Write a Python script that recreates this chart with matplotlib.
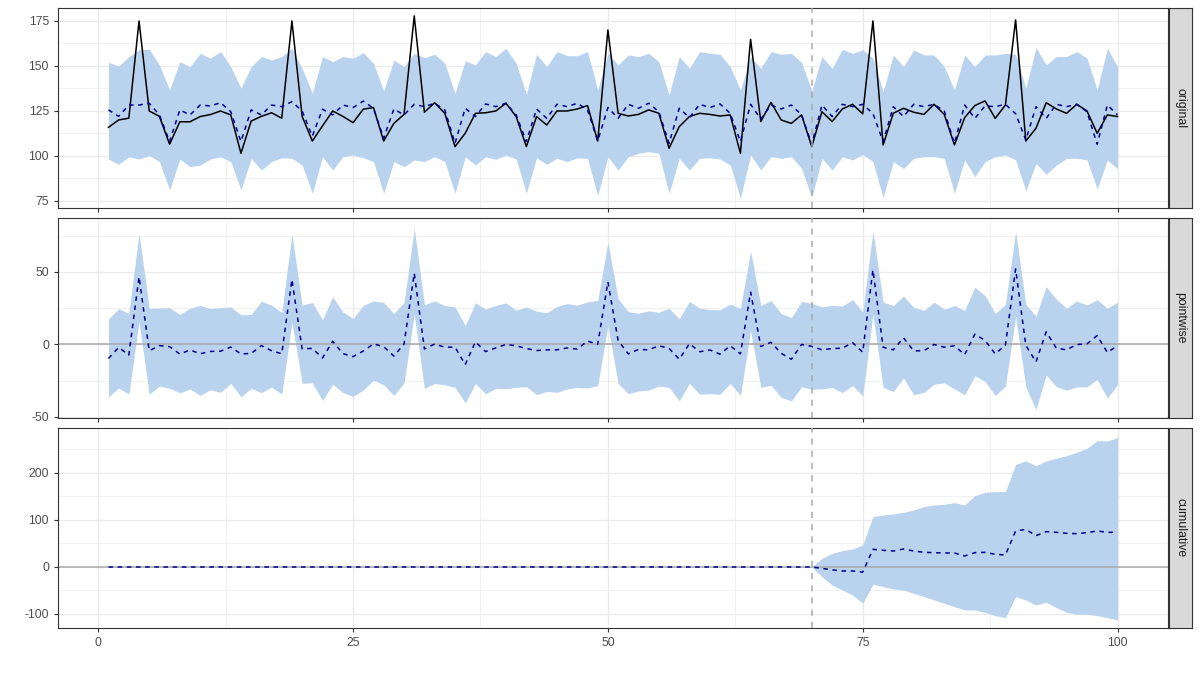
import matplotlib.pyplot as plt
import numpy as np

# values (t = 1..100, intervention after t = 70)
t = np.arange(1, 101)
intervention = 70

observed = [115.9, 120, 121, 175, 125, 122, 106.5, 119, 119, 121.9,
            123, 125, 122.8, 101.5, 119.4, 122, 124, 121, 175, 122,
            108.3, 116.7, 125, 122, 118.5, 126, 126.9, 108.3, 118.1, 123.1,
            177.8, 124.3, 129.6, 123.7, 105.2, 112.6, 123.7, 124, 125, 129.3,
            121.9, 105.2, 121.9, 117.2, 125, 125, 126.1, 128, 108.3, 170,
            123.7, 122.2, 123.1, 125.6, 123.7, 104.3, 116.3, 121.9, 123.7, 123.1,
            122.2, 122.8, 101.5, 164.8, 119.1, 129.8, 120, 118.1, 122.8, 105.2,
            124.6, 119.1, 126.1, 128.7, 123.4, 175, 106.1, 123.7, 126.5, 124.3,
            123.1, 128.7, 123.1, 106.1, 121.3, 128, 130.6, 120.9, 128.3, 175.6,
            108.3, 115.4, 129.6, 126.1, 123.7, 128.7, 125, 112.6, 122.8, 121.9]

predicted = [125.6, 122, 128.3, 128.3, 129.3, 122.8, 108, 125.6, 122.8, 128.3,
             127.8, 129.6, 124.6, 108, 125.6, 122.8, 128.3, 127.4, 130.2, 125,
             111, 126, 122.8, 128.3, 126.9, 130.5, 126.5, 109.8, 126.1, 122.8,
             128.7, 127.4, 129.3, 125.6, 107, 126.5, 121.9, 128.9, 127.4, 129.3,
             122.8, 108, 126.1, 120.9, 128.7, 127.4, 129.3, 125.6, 108.3, 126.9,
             120.9, 128.7, 126.5, 129.3, 124.6, 107, 126.5, 121.3, 128.7, 126.9,
             128.9, 123.7, 108, 128.7, 120.5, 128.3, 126.1, 128.3, 122.8, 106.5,
             128.3, 121.9, 128.7, 127.4, 128.7, 123.6, 108, 127.4, 121.9, 128.7,
             127.4, 128.7, 125, 107, 128.3, 120.9, 127.8, 127.4, 128.7, 123.5,
             108.9, 127.4, 120.9, 128.7, 127.4, 128.7, 124.6, 106.5, 128.3, 122.8]

pred_upper = [152, 150, 155.2, 159, 159.3, 150.6, 136.7, 152.4, 149.6, 157,
              154.3, 158, 149.6, 137.6, 149.6, 155.2, 153.3, 155.2, 159.8, 148.7,
              134.8, 155.2, 152.4, 155.2, 154.3, 157.4, 151.5, 136.1, 153.3, 149.6,
              157, 154.6, 156.5, 151.5, 134.8, 152.8, 150.6, 158, 155.2, 159.8,
              151.5, 134.3, 156.5, 149.6, 158, 155.7, 155.7, 158, 136.7, 157,
              150.6, 156.1, 155.2, 157, 152.4, 133.9, 155.2, 148.7, 158, 157,
              156.5, 149.6, 136.7, 155.2, 148.7, 158, 156.5, 157, 152, 136.1,
              155.2, 148.7, 159.3, 157, 159, 154.3, 135.7, 156.1, 149.6, 158.9,
              156.1, 156.1, 149.6, 136.7, 156.1, 149.6, 156.1, 156.1, 157, 156.5,
              137.6, 160.2, 150.6, 155.2, 155.2, 158, 154.3, 136.7, 159.8, 149.6]

pred_lower = [98.3, 95.4, 99.6, 98.3, 100.2, 96.9, 81.1, 98.3, 94.1, 95,
              98.3, 99.6, 96.9, 81.1, 98.7, 92.2, 96.9, 99, 98.7, 95,
              79.3, 99.6, 92.2, 99.6, 100.6, 99, 96.9, 79.3, 96.9, 94.1,
              97.8, 96.9, 99.6, 96.9, 79.3, 99.6, 95, 99.6, 98.1, 100.6,
              98.3, 79.3, 99, 95.4, 98.7, 96.9, 99, 98.7, 78, 99.6,
              92.2, 99.6, 101.5, 102.4, 101.5, 79.3, 98.7, 92.2, 98.7, 99,
              98.3, 95, 76.5, 100.6, 92.2, 99.6, 98.7, 99.6, 93.1, 76.9,
              98.7, 92.2, 99.6, 97.8, 100.9, 96.9, 76.9, 96.9, 93.1, 98.7,
              99.6, 99.6, 98.7, 79.3, 97.8, 88.5, 96.9, 99.6, 100.6, 97.8,
              80.6, 95.9, 89.8, 95, 98.7, 98.7, 97.8, 81.7, 97.8, 92.8]

# cumulative effect, post period (t = 70..100)
cum_effect_post = [0, -3, -6, -8.5, -8.5, -11, 37.6, 35.5, 34, 38.3,
                   34, 31.2, 30.5, 29.8, 29.8, 23.4, 30.5, 31.2, 27, 25.5,
                   76.6, 80, 66.7, 75.2, 73.8, 71.6, 70.9, 73, 76.6, 73.8, 73.8]
cum_upper_post = [0, 18.4, 29, 34.8, 38.3, 46.8, 107, 110.6, 112.8, 116.3,
                  121.3, 128.4, 131.9, 133.3, 136.9, 131.9, 151.8, 158.9, 160.3, 160.3,
                  218.4, 225.5, 215.6, 225.5, 231.2, 236.9, 244, 252.5, 268.8, 268, 275.2]
cum_lower_post = [0, -20.6, -38.3, -49, -59.6, -77.3, -36.9, -41.8, -46.8, -49,
                  -56, -63.1, -70.2, -77.3, -84.4, -91.5, -91.5, -96.5, -103.5, -107.8,
                  -63.1, -70.2, -80.9, -75.2, -86.5, -96.5, -100.7, -100.7, -103.5, -107.8, -112.8]

observed = np.array(observed)
predicted = np.array(predicted)
pred_upper = np.array(pred_upper)
pred_lower = np.array(pred_lower)

# pointwise effect = observed - predicted
point = observed - predicted
point_upper = observed - pred_lower
point_lower = observed - pred_upper

pre = np.zeros(intervention - 1)
cum = np.concatenate([pre, cum_effect_post])
cum_up = np.concatenate([pre, cum_upper_post])
cum_lo = np.concatenate([pre, cum_lower_post])

plt.rcParams['font.family'] = ['Liberation Sans', 'DejaVu Sans']
plt.rcParams['axes.unicode_minus'] = False

band_col = '#B9D3EE'
dash_col = '#00008B'
grid_col = '#EBEBEB'
ref_col = '#A9A9A9'

fig = plt.figure(figsize=(12, 6.75), dpi=100)

W, H = 1200, 675
ax_left, ax_right = 58, 1168
panels = [(8, 208), (218, 418), (428, 628)]
names = ['original', 'pointwise', 'cumulative']
yticks = [[75, 100, 125, 150, 175], [-50, 0, 50], [-100, 0, 100, 200]]

axes = []
for (top, bot), name in zip(panels, names):
    ax = fig.add_axes([ax_left / W, 1 - bot / H, (ax_right - ax_left) / W, (bot - top) / H])
    axes.append(ax)
    st = fig.add_axes([(ax_right + 1) / W, 1 - bot / H, 23 / W, (bot - top) / H])
    st.set_facecolor('#D9D9D9')
    st.set_xticks([])
    st.set_yticks([])
    for sp in st.spines.values():
        sp.set_color('#333333')
        sp.set_linewidth(0.8)
    st.text(0.5, 0.5, name, rotation=270, ha='center', va='center',
            fontsize=8.8, color='#1A1A1A', transform=st.transAxes)

ax1, ax2, ax3 = axes

ax1.fill_between(t, pred_lower, pred_upper, color=band_col, lw=0)
ax1.plot(t, observed, color='black', lw=1.1)
ax1.plot(t, predicted, color=dash_col, lw=1.1, ls=(0, (3, 3)))

ax2.fill_between(t, point_lower, point_upper, color=band_col, lw=0)
ax2.axhline(0, color=ref_col, lw=1.1)
ax2.plot(t, point, color=dash_col, lw=1.1, ls=(0, (3, 3)))

ax3.fill_between(t, cum_lo, cum_up, color=band_col, lw=0)
ax3.axhline(0, color=ref_col, lw=1.1)
ax3.plot(t, cum, color=dash_col, lw=1.1, ls=(0, (3, 3)))

for ax, yt in zip(axes, yticks):
    ax.set_xlim(-3.95, 104.95)
    ax.axvline(intervention, color=ref_col, lw=1.1, ls=(0, (4, 4)), zorder=3)
    ax.set_yticks(yt)
    step = yt[1] - yt[0]
    ax.set_yticks([v + step / 2 for v in [yt[0] - step] + yt], minor=True)
    ax.set_xticks([0, 25, 50, 75, 100])
    ax.set_xticks([12.5, 37.5, 62.5, 87.5], minor=True)
    ax.grid(which='major', color=grid_col, lw=1.0)
    ax.grid(which='minor', color=grid_col, lw=0.5)
    ax.set_axisbelow(True)
    ax.tick_params(which='major', length=3, color='#333333', labelsize=8.8,
                   labelcolor='#4D4D4D', width=0.8)
    ax.tick_params(which='minor', length=0)
    for sp in ax.spines.values():
        sp.set_color('#333333')
        sp.set_linewidth(0.8)

ax1.set_ylim(71.1, 182.2)
ax2.set_ylim(-50.7, 87.2)
ax3.set_ylim(-129.8, 295.7)

for ax in (ax1, ax2):
    ax.tick_params(axis='x', which='major', length=3, labelbottom=False)

plt.savefig('out.png', dpi=100)
